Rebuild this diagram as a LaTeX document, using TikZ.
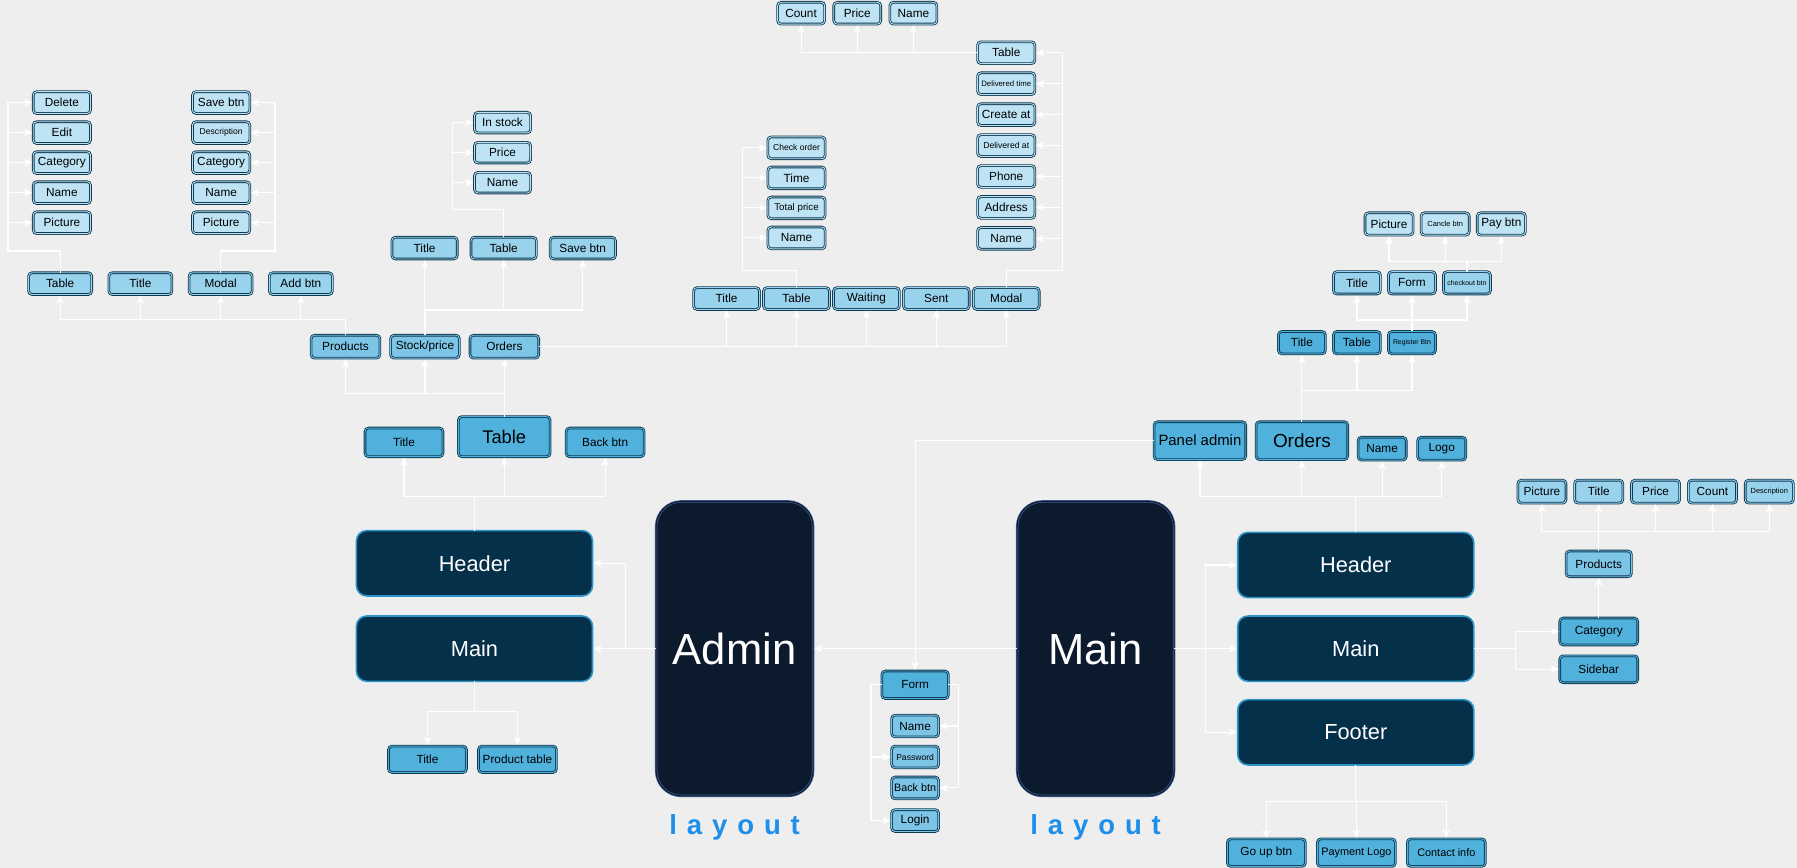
\documentclass[tikz,border=0pt]{standalone}
\usepackage{fontspec}
\setmainfont{Liberation Sans}
\newfontfamily\spreadfont[LetterSpace=36]{Liberation Sans}
\usetikzlibrary{positioning,arrows.meta}
\definecolor{paper}{HTML}{EEEEEE}
\definecolor{edge}{HTML}{0F3A52}
\definecolor{pale}{HTML}{BDE3F4}
\definecolor{soft}{HTML}{98D2EC}
\definecolor{mid}{HTML}{7DC5E7}
\definecolor{deep}{HTML}{4FB1DC}
\definecolor{panelfill}{HTML}{05304A}
\definecolor{paneledge}{HTML}{2E95C8}
\definecolor{phonefill}{HTML}{0C1A2E}
\definecolor{phoneedge}{HTML}{3E5E92}
\definecolor{layoutblue}{HTML}{1D8FEA}

\begin{document}
\begin{tikzpicture}[x=1pt, y=-1pt,
    box/.style={rounded corners=3pt, draw=edge, line width=0.75pt, double distance=0.8pt,
        inner sep=1pt, outer sep=0pt, font=\fontsize{10.3}{12}\selectfont},
    palebox/.style={box, fill=pale, double=pale},
    softbox/.style={box, fill=soft, double=soft},
    midbox/.style={box, fill=mid, double=mid},
    deepbox/.style={box, fill=deep, double=deep},
    panel/.style={rounded corners=9pt, draw=paneledge, line width=1.4pt, fill=panelfill,
        text=white, minimum width=206pt, minimum height=57pt, outer sep=0pt,
        font=\fontsize{19}{22}\selectfont},
    phone/.style={rounded corners=22pt, draw=phoneedge, line width=0.6pt, double=phonefill,
        double distance=0.9pt, fill=phonefill, text=white, minimum width=137pt,
        minimum height=257pt, outer sep=0pt, font=\fontsize{38}{44}\selectfont},
    tag/.style={font=\spreadfont\bfseries\fontsize{24}{28}\selectfont, text=layoutblue},
    wire/.style={draw=white, line width=1pt},
    arr/.style={wire, -{Stealth[length=7pt,width=6.5pt,inset=2pt]}, shorten >=1pt}]

    \fill[paper] (0,0) rectangle (1568,757);
    \useasboundingbox (0,0) rectangle (1568,757);

    \node[phone] (admin) at (641,566) {Admin};
    \node[tag] (adminlay) at (641,722) {layout};
    \node[panel] (amain) at (414,566) {Main};
    \node[panel, above=17.5pt of amain] (ahead) {Header};
    \node[deepbox, minimum width=68pt, minimum height=23pt] (amtitle) at (373,662.5) {Title};
    \node[deepbox, minimum width=68pt, minimum height=23pt, right=10.5pt of amtitle] (amtable) {Product table};
    \node[deepbox, minimum width=68pt, minimum height=25pt] (ahtitle) at (352.5,386) {Title};
    \node[deepbox, minimum width=80pt, minimum height=35pt, font=\fontsize{16}{19}\selectfont] (ahtable) at (440,381) {Table};
    \node[deepbox, minimum width=68pt, minimum height=25pt] (ahback) at (528,386) {Back btn};

    \node[midbox, minimum width=60pt, minimum height=20pt] (products) at (301.5,302.5) {Products};
    \node[midbox, minimum width=60pt, minimum height=20pt, right=9.3pt of products] (stock) {Stock/price};
    \node[midbox, minimum width=60pt, minimum height=20pt, right=9.3pt of stock] (orders) {Orders};

    \node[softbox, minimum width=55pt, minimum height=19pt] (ptable) at (52.5,247.5) {Table};
    \node[softbox, minimum width=55pt, minimum height=19pt, right=15pt of ptable] (ptitle) {Title};
    \node[softbox, minimum width=55pt, minimum height=19pt, right=15pt of ptitle] (pmodal) {Modal};
    \node[softbox, minimum width=55pt, minimum height=19pt, right=15pt of pmodal] (padd) {Add btn};

    \node[palebox, minimum width=50pt, minimum height=19pt] (pdel) at (54,89.5) {Delete};
    \node[palebox, minimum width=50pt, minimum height=19pt, below=7.2pt of pdel] (pedit) {Edit};
    \node[palebox, minimum width=50pt, minimum height=19pt, below=7.2pt of pedit] (pcat) {Category};
    \node[palebox, minimum width=50pt, minimum height=19pt, below=7.2pt of pcat] (pname) {Name};
    \node[palebox, minimum width=50pt, minimum height=19pt, below=7.2pt of pname] (ppic) {Picture};

    \node[palebox, minimum width=50pt, minimum height=19pt] (msave) at (193,89.5) {Save btn};
    \node[palebox, minimum width=50pt, minimum height=19pt, below=7.2pt of msave, font=\fontsize{7.5}{9}\selectfont] (mdesc) {Description};
    \node[palebox, minimum width=50pt, minimum height=19pt, below=7.2pt of mdesc] (mcat) {Category};
    \node[palebox, minimum width=50pt, minimum height=19pt, below=7.2pt of mcat] (mname) {Name};
    \node[palebox, minimum width=50pt, minimum height=19pt, below=7.2pt of mname] (mpic) {Picture};

    \node[softbox, minimum width=57pt, minimum height=19pt] (stitle) at (370.5,216.5) {Title};
    \node[softbox, minimum width=57pt, minimum height=19pt, right=12pt of stitle] (stable) {Table};
    \node[softbox, minimum width=57pt, minimum height=19pt, right=12pt of stable] (ssave) {Save btn};

    \node[palebox, minimum width=49pt, minimum height=18pt] (sin) at (438.5,107) {In stock};
    \node[palebox, minimum width=49pt, minimum height=18pt, below=8.2pt of sin] (sprice) {Price};
    \node[palebox, minimum width=49pt, minimum height=18pt, below=8.2pt of sprice] (sname) {Name};

    \node[softbox, minimum width=57.5pt, minimum height=19pt] (otitle) at (634,260.5) {Title};
    \node[softbox, minimum width=57.5pt, minimum height=19pt, right=3.5pt of otitle] (otable) {Table};
    \node[softbox, minimum width=57.5pt, minimum height=19pt, right=3.5pt of otable] (owait) {Waiting};
    \node[softbox, minimum width=57.5pt, minimum height=19pt, right=3.5pt of owait] (osent) {Sent};
    \node[softbox, minimum width=57.5pt, minimum height=19pt, right=3.5pt of osent] (omodal) {Modal};

    \node[palebox, minimum width=50pt, minimum height=19pt, font=\fontsize{7.5}{9}\selectfont] (ocheck) at (695,129) {Check order};
    \node[palebox, minimum width=50pt, minimum height=19pt, below=7.2pt of ocheck] (otime) {Time};
    \node[palebox, minimum width=50pt, minimum height=19pt, below=7.2pt of otime, font=\fontsize{8.5}{10}\selectfont] (ototal) {Total price};
    \node[palebox, minimum width=50pt, minimum height=19pt, below=7.2pt of ototal] (oname) {Name};

    \node[palebox, minimum width=50pt, minimum height=19pt] (mtab) at (878,46) {Table};
    \node[palebox, minimum width=50pt, minimum height=19pt, below=8pt of mtab, font=\fontsize{6.8}{8}\selectfont] (mdtime) {Delivered time};
    \node[palebox, minimum width=50pt, minimum height=19pt, below=8pt of mdtime] (mcreate) {Create at};
    \node[palebox, minimum width=50pt, minimum height=19pt, below=8pt of mcreate, font=\fontsize{7.5}{9}\selectfont] (mdat) {Delivered at};
    \node[palebox, minimum width=50pt, minimum height=19pt, below=8pt of mdat] (mphone) {Phone};
    \node[palebox, minimum width=50pt, minimum height=19pt, below=8pt of mphone] (maddr) {Address};
    \node[palebox, minimum width=50pt, minimum height=19pt, below=8pt of maddr] (mcname) {Name};

    \node[palebox, minimum width=41pt, minimum height=19pt] (tcount) at (699,11.5) {Count};
    \node[palebox, minimum width=41pt, minimum height=19pt, right=8pt of tcount] (tprice) {Price};
    \node[palebox, minimum width=41pt, minimum height=19pt, right=8pt of tprice] (tname) {Name};

    \node[phone] (mainph) at (956,566) {Main};
    \node[tag] (mainlay) at (956,722) {layout};
    \node[panel] (rmain) at (1183,566) {Main};
    \node[panel, above=16pt of rmain] (rhead) {Header};
    \node[panel, below=16pt of rmain] (rfoot) {Footer};

    \node[deepbox, minimum width=80pt, minimum height=33pt, font=\fontsize{13}{16}\selectfont] (rpanel) at (1047,384.5) {Panel admin};
    \node[deepbox, minimum width=80pt, minimum height=33pt, font=\fontsize{16.5}{19}\selectfont, right=9pt of rpanel] (rorders) {Orders};
    \node[deepbox, minimum width=42pt, minimum height=20pt] (rname) at (1206,391.5) {Name};
    \node[deepbox, minimum width=42pt, minimum height=20pt, right=10pt of rname] (rlogo) {Logo};

    \node[deepbox, minimum width=41pt, minimum height=19.5pt] (rotitle) at (1136,299) {Title};
    \node[deepbox, minimum width=41pt, minimum height=19.5pt, right=7pt of rotitle] (rotable) {Table};
    \node[deepbox, minimum width=41pt, minimum height=19.5pt, right=7pt of rotable, font=\fontsize{6}{7}\selectfont] (roreg) {Register Btn};

    \node[softbox, minimum width=41pt, minimum height=19.5pt] (cktitle) at (1184,246.8) {Title};
    \node[softbox, minimum width=41pt, minimum height=19.5pt, right=7pt of cktitle] (ckform) {Form};
    \node[softbox, minimum width=41pt, minimum height=19.5pt, right=7pt of ckform, font=\fontsize{6}{7}\selectfont] (ckbtn) {checkout btn};

    \node[palebox, minimum width=42pt, minimum height=19.5pt] (pypic) at (1212,195.4) {Picture};
    \node[palebox, minimum width=42pt, minimum height=19.5pt, right=7pt of pypic, font=\fontsize{6.5}{8}\selectfont] (pycancel) {Cancle btn};
    \node[palebox, minimum width=42pt, minimum height=19.5pt, right=7pt of pycancel] (pypay) {Pay btn};

    \node[deepbox, minimum width=58pt, minimum height=24pt] (form) at (798.5,597.5) {Form};
    \node[midbox, minimum width=41pt, minimum height=19pt] (fname) at (798.5,633.5) {Name};
    \node[midbox, minimum width=41pt, minimum height=19pt, below=8pt of fname, font=\fontsize{7.5}{9}\selectfont] (fpass) {Password};
    \node[midbox, minimum width=41pt, minimum height=19pt, below=8pt of fpass, font=\fontsize{9.4}{11}\selectfont] (fback) {Back btn};
    \node[midbox, minimum width=41pt, minimum height=19pt, below=9.5pt of fback] (flogin) {Login};

    \node[deepbox, minimum width=68pt, minimum height=23.5pt] (rcat) at (1395,551) {Category};
    \node[deepbox, minimum width=68pt, minimum height=23.5pt, below=9.5pt of rcat] (rside) {Sidebar};
    \node[midbox, minimum width=57pt, minimum height=22.5pt] (rprod) at (1395,492) {Products};

    \node[softbox, minimum width=42pt, minimum height=20pt] (ppic2) at (1345.4,429) {Picture};
    \node[softbox, minimum width=42pt, minimum height=20pt, right=7.6pt of ppic2] (ptitle2) {Title};
    \node[softbox, minimum width=42pt, minimum height=20pt, right=7.6pt of ptitle2] (pprice2) {Price};
    \node[softbox, minimum width=42pt, minimum height=20pt, right=7.6pt of pprice2] (pcount2) {Count};
    \node[softbox, minimum width=42pt, minimum height=20pt, right=7.6pt of pcount2, font=\fontsize{6.5}{8}\selectfont] (pdesc2) {Description};

    \node[deepbox, minimum width=68pt, minimum height=24pt] (fgoup) at (1105,744) {Go up btn};
    \node[deepbox, minimum width=68pt, minimum height=24pt, right=10.5pt of fgoup, font=\fontsize{9.5}{11}\selectfont] (fpay) {Payment Logo};
    \node[deepbox, minimum width=68pt, minimum height=24pt, right=10.5pt of fpay, font=\fontsize{9.5}{11}\selectfont] (fcontact) {Contact info};

    \draw[arr] (admin.west) -- (amain.east);
    \draw[arr] ([xshift=-27pt]admin.west) |- (ahead.east);
    \draw[arr] (ahead.north) -- ++(0,-30) -| (ahtitle.south);
    \draw[arr] (ahead.north) -- ++(0,-30) -| (ahtable.south);
    \draw[arr] (ahead.north) -- ++(0,-30) -| (ahback.south);
    \draw[arr] (amain.south) -- ++(0,26) -| (amtitle.north);
    \draw[arr] (amain.south) -- ++(0,26) -| (amtable.north);

    \draw[arr] (ahtable.north) -- ++(0,-20.5) -| (products.south);
    \draw[arr] (ahtable.north) -- ++(0,-20.5) -| (stock.south);
    \draw[arr] (ahtable.north) -- ++(0,-20.5) -| (orders.south);

    \draw[arr] (products.north) -- ++(0,-14) -| (ptable.south);
    \draw[arr] (products.north) -- ++(0,-14) -| (ptitle.south);
    \draw[arr] (products.north) -- ++(0,-14) -| (pmodal.south);
    \draw[arr] (products.north) -- ++(0,-14) -| (padd.south);
    \draw[arr] (ptable.north) -- ++(0,-19) -| ([xshift=-22pt]pdel.west) -- (pdel.west);
    \draw[arr] (ptable.north) -- ++(0,-19) -| ([xshift=-22pt]pedit.west) -- (pedit.west);
    \draw[arr] (ptable.north) -- ++(0,-19) -| ([xshift=-22pt]pcat.west) -- (pcat.west);
    \draw[arr] (ptable.north) -- ++(0,-19) -| ([xshift=-22pt]pname.west) -- (pname.west);
    \draw[arr] (ptable.north) -- ++(0,-19) -| ([xshift=-22pt]ppic.west) -- (ppic.west);
    \draw[arr] (pmodal.north) -- ++(0,-19) -| ([xshift=22pt]msave.east) -- (msave.east);
    \draw[arr] (pmodal.north) -- ++(0,-19) -| ([xshift=22pt]mdesc.east) -- (mdesc.east);
    \draw[arr] (pmodal.north) -- ++(0,-19) -| ([xshift=22pt]mcat.east) -- (mcat.east);
    \draw[arr] (pmodal.north) -- ++(0,-19) -| ([xshift=22pt]mname.east) -- (mname.east);
    \draw[arr] (pmodal.north) -- ++(0,-19) -| ([xshift=22pt]mpic.east) -- (mpic.east);

    \draw[arr] (stock.north) -- ++(0,-22) -| (stitle.south);
    \draw[arr] (stock.north) -- ++(0,-22) -| (stable.south);
    \draw[arr] (stock.north) -- ++(0,-22) -| (ssave.south);
    \draw[arr] (stable.north) -- ++(0,-24) -| ([xshift=-19pt]sin.west) -- (sin.west);
    \draw[arr] (stable.north) -- ++(0,-24) -| ([xshift=-19pt]sprice.west) -- (sprice.west);
    \draw[arr] (stable.north) -- ++(0,-24) -| ([xshift=-19pt]sname.west) -- (sname.west);

    \draw[arr] (orders.east) -| (otitle.south);
    \draw[arr] (orders.east) -| (otable.south);
    \draw[arr] (orders.east) -| (owait.south);
    \draw[arr] (orders.east) -| (osent.south);
    \draw[arr] (orders.east) -| (omodal.south);
    \draw[arr] (otable.north) -- ++(0,-15) -| ([xshift=-22pt]ocheck.west) -- (ocheck.west);
    \draw[arr] (otable.north) -- ++(0,-15) -| ([xshift=-22pt]otime.west) -- (otime.west);
    \draw[arr] (otable.north) -- ++(0,-15) -| ([xshift=-22pt]ototal.west) -- (ototal.west);
    \draw[arr] (otable.north) -- ++(0,-15) -| ([xshift=-22pt]oname.west) -- (oname.west);
    \draw[arr] (omodal.north) -- ++(0,-15) -| ([xshift=24pt]mtab.east) -- (mtab.east);
    \draw[arr] (omodal.north) -- ++(0,-15) -| ([xshift=24pt]mdtime.east) -- (mdtime.east);
    \draw[arr] (omodal.north) -- ++(0,-15) -| ([xshift=24pt]mcreate.east) -- (mcreate.east);
    \draw[arr] (omodal.north) -- ++(0,-15) -| ([xshift=24pt]mdat.east) -- (mdat.east);
    \draw[arr] (omodal.north) -- ++(0,-15) -| ([xshift=24pt]mphone.east) -- (mphone.east);
    \draw[arr] (omodal.north) -- ++(0,-15) -| ([xshift=24pt]maddr.east) -- (maddr.east);
    \draw[arr] (omodal.north) -- ++(0,-15) -| ([xshift=24pt]mcname.east) -- (mcname.east);
    \draw[arr] (mtab.west) -| (tcount.south);
    \draw[arr] (mtab.west) -| (tprice.south);
    \draw[arr] (mtab.west) -| (tname.south);

    \draw[arr] (mainph.west) -- (admin.east);
    \draw[arr] (rpanel.west) -| (form.north);
    \draw[arr] (form.west) -- ++(-9.5,0) |- (fpass.west);
    \draw[arr] (form.west) -- ++(-9.5,0) |- (flogin.west);
    \draw[arr] (form.east) -- ++(9,0) |- (fname.east);
    \draw[arr] (form.east) -- ++(9,0) |- (fback.east);

    \draw[arr] (mainph.east) -- ++(27,0) |- (rhead.west);
    \draw[arr] (mainph.east) -- (rmain.west);
    \draw[arr] (mainph.east) -- ++(27,0) |- (rfoot.west);
    \draw[arr] (rhead.north) -- ++(0,-31) -| (rpanel.south);
    \draw[arr] (rhead.north) -- ++(0,-31) -| (rorders.south);
    \draw[arr] (rhead.north) -- ++(0,-31) -| (rname.south);
    \draw[arr] (rhead.north) -- ++(0,-31) -| (rlogo.south);
    \draw[arr] (rorders.north) -- ++(0,-27) -| (rotitle.south);
    \draw[arr] (rorders.north) -- ++(0,-27) -| (rotable.south);
    \draw[arr] (rorders.north) -- ++(0,-27) -| (roreg.south);
    \draw[arr] (roreg.north) -- ++(0,-10) -| (cktitle.south);
    \draw[arr] (roreg.north) -- ++(0,-10) -| (ckform.south);
    \draw[arr] (roreg.north) -- ++(0,-10) -| (ckbtn.south);
    \draw[arr] (ckbtn.north) -- ++(0,-9) -| (pypic.south);
    \draw[arr] (ckbtn.north) -- ++(0,-9) -| (pycancel.south);
    \draw[arr] (ckbtn.north) -- ++(0,-9) -| (pypay.south);

    \draw[arr] (rmain.east) -- ++(36,0) |- (rcat.west);
    \draw[arr] (rmain.east) -- ++(36,0) |- (rside.west);
    \draw[arr] (rcat.north) -- (rprod.south);
    \draw[arr] (rprod.north) -- ++(0,-17) -| (ppic2.south);
    \draw[arr] (rprod.north) -- ++(0,-17) -| (ptitle2.south);
    \draw[arr] (rprod.north) -- ++(0,-17) -| (pprice2.south);
    \draw[arr] (rprod.north) -- ++(0,-17) -| (pcount2.south);
    \draw[arr] (rprod.north) -- ++(0,-17) -| (pdesc2.south);
    \draw[arr] (rfoot.south) -- ++(0,32) -| (fgoup.north);
    \draw[arr] (rfoot.south) -- ++(0,32) -| (fpay.north);
    \draw[arr] (rfoot.south) -- ++(0,32) -| (fcontact.north);
\end{tikzpicture}
\end{document}
